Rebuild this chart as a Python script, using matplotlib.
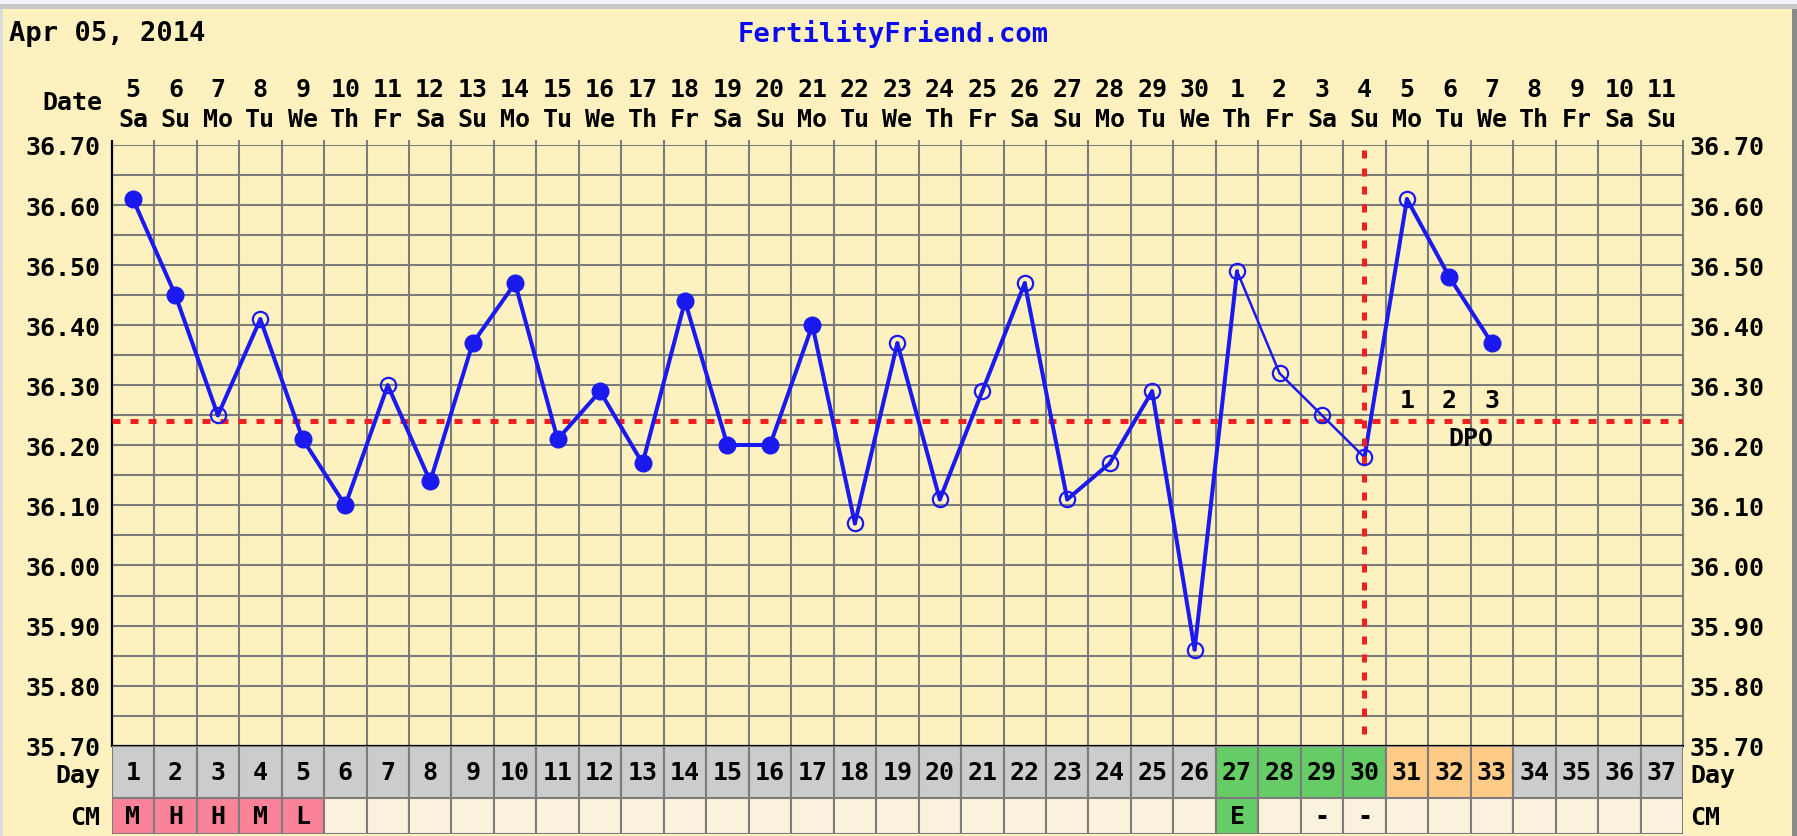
import numpy as np
import matplotlib
matplotlib.use("Agg")
import matplotlib.pyplot as plt
from matplotlib.patches import Rectangle
from matplotlib.lines import Line2D

# ---------------- data ----------------
cycle_days = list(range(1, 38))
dates = [5, 6, 7, 8, 9, 10, 11, 12, 13, 14, 15, 16, 17, 18, 19, 20, 21, 22, 23, 24, 25, 26, 27, 28, 29, 30,
         1, 2, 3, 4, 5, 6, 7, 8, 9, 10, 11]
weekdays = ['Sa', 'Su', 'Mo', 'Tu', 'We', 'Th', 'Fr', 'Sa', 'Su', 'Mo', 'Tu', 'We', 'Th', 'Fr',
            'Sa', 'Su', 'Mo', 'Tu', 'We', 'Th', 'Fr', 'Sa', 'Su', 'Mo', 'Tu', 'We', 'Th', 'Fr',
            'Sa', 'Su', 'Mo', 'Tu', 'We', 'Th', 'Fr', 'Sa', 'Su']
temp_days = list(range(1, 34))
temps = [36.61, 36.45, 36.25, 36.41, 36.21, 36.10, 36.30, 36.14, 36.37, 36.47, 36.21, 36.29,
         36.17, 36.44, 36.20, 36.20, 36.40, 36.07, 36.37, 36.11, 36.29, 36.47, 36.11, 36.17,
         36.29, 35.86, 36.49, 36.32, 36.25, 36.18, 36.61, 36.48, 36.37]
open_days = [3, 4, 7, 18, 19, 20, 21, 22, 23, 24, 25, 26, 27, 28, 29, 30, 31]
thin_segment_starts = [27, 28, 29]
coverline = 36.24
ovulation_day = 30
dpo_days = [31, 32, 33]
dpo_labels = ['1', '2', '3']
fertile_days = [27, 28, 29, 30]
cm_days = [1, 2, 3, 4, 5, 27, 29, 30]
cm_codes = ['M', 'H', 'H', 'M', 'L', 'E', '-', '-']
menses_days = [1, 2, 3, 4, 5]
y_ticks = [35.70, 35.80, 35.90, 36.00, 36.10, 36.20, 36.30, 36.40, 36.50, 36.60, 36.70]
chart_date = 'Apr 05, 2014'
site = 'FertilityFriend.com'

# ---------------- style ----------------
W, H = 1797, 837
BG = '#FDF2BF'
GRID = '#7C7C7C'
BLUE = '#1A1AF0'
RED = '#EE2020'
FONT = 'DejaVu Sans Mono'
FS = 18

def fx(px):
    return px / W

def fy(py):
    return 1 - py / H

L, R = 111.7, 1683.0
T, B = 146.0, 746.7
DAY_B, CM_B = 799.0, 835.0

fig = plt.figure(figsize=(W / 100, H / 100), dpi=100, facecolor=BG)

# frame decorations
fig.add_artist(Rectangle((0, fy(5)), 1, 5 / H, transform=fig.transFigure, color='#F3F3FE', lw=0))
fig.add_artist(Rectangle((0, fy(10)), 1, 5 / H, transform=fig.transFigure, color='#C8C8C8', lw=0))
fig.add_artist(Rectangle((0, 0), 3 / W, fy(10), transform=fig.transFigure, color='#DCDCDC', lw=0))
fig.add_artist(Rectangle((fx(1792), 0), 5 / W, fy(10), transform=fig.transFigure, color='#8A8A8A', lw=0))

# ---------------- main chart ----------------
ax = fig.add_axes([fx(L), fy(B), (R - L) / W, (B - T) / H])
ax.set_facecolor(BG)
ax.set_xlim(0.5, 37.5)
ax.set_ylim(35.70, 36.70)
px_per_unit = (B - T) / 1.0
ext = 5 / px_per_unit

bounds = np.arange(0.5, 38.0, 1.0)
ax.vlines(bounds[1:-1], 35.70, 36.70 + ext, colors=GRID, lw=1.5, zorder=1, clip_on=False)
hl = np.round(np.arange(35.75, 36.71, 0.05), 2)
ax.hlines(hl, 0.5, 37.5, colors=GRID, lw=1.5, zorder=1)
ax.vlines([37.5], 35.70, 36.70 + ext, colors=GRID, lw=1.5, zorder=1, clip_on=False)
ax.vlines([0.5], 35.70, 36.70 + ext, colors='black', lw=1.6, zorder=2, clip_on=False)
for s in ax.spines.values():
    s.set_visible(False)
ax.spines['bottom'].set_visible(True)
ax.spines['bottom'].set_color('black')
ax.spines['bottom'].set_linewidth(1.6)

ax.set_xticks([])
ax.set_yticks(y_ticks)
ax.set_yticklabels([f'{v:.2f}' for v in y_ticks], fontfamily=FONT, fontweight='bold', fontsize=FS)
ax.tick_params(axis='y', length=0, pad=8.4)
ax2 = ax.twinx()
ax2.set_ylim(ax.get_ylim())
ax2.set_yticks(y_ticks)
ax2.set_yticklabels([f'{v:.2f}' for v in y_ticks], fontfamily=FONT, fontweight='bold', fontsize=FS)
ax2.tick_params(axis='y', length=0, pad=5)
for s in ax2.spines.values():
    s.set_visible(False)

# coverline and ovulation line
ax.hlines(coverline, 0.5, 37.5, colors=RED, lw=3.6, linestyles=(0, (1.6, 2.0)), zorder=3)
ax.vlines(ovulation_day, 35.72, 36.70 + ext, colors=RED, lw=3.6, linestyles=(0, (1.6, 2.0)),
          zorder=5, clip_on=False)

# temperature line
for i in range(len(temp_days) - 1):
    lw = 1.8 if temp_days[i] in thin_segment_starts else 2.9
    ax.plot(temp_days[i:i + 2], temps[i:i + 2], color=BLUE, lw=lw, zorder=4,
            solid_capstyle='round')
filled_x = [d for d in temp_days if d not in open_days]
filled_y = [t for d, t in zip(temp_days, temps) if d not in open_days]
open_x = [d for d in temp_days if d in open_days]
open_y = [t for d, t in zip(temp_days, temps) if d in open_days]
ax.plot(filled_x, filled_y, 'o', color=BLUE, ms=12, mec=BLUE, zorder=6, ls='none')
ax.plot(open_x, open_y, 'o', mfc='none', mec=BLUE, ms=11, mew=1.6, zorder=6, ls='none')

# DPO labels
for d, lab in zip(dpo_days, dpo_labels):
    ax.text(d, 36.275, lab, ha='center', va='center', fontfamily=FONT, fontweight='bold',
            fontsize=FS, color='black', zorder=7)
ax.text(np.mean(dpo_days[1:]), 36.212, 'DPO', ha='center', va='center', fontfamily=FONT,
        fontweight='bold', fontsize=FS, color='black', zorder=7)

# header: dates and weekdays
tr = ax.get_xaxis_transform()
for d, dt, wd in zip(cycle_days, dates, weekdays):
    ax.text(d, (B - 90) / (B - T), str(dt), transform=tr, ha='center', va='center',
            fontfamily=FONT, fontweight='bold', fontsize=FS)
    ax.text(d, (B - 120) / (B - T), wd, transform=tr, ha='center', va='center',
            fontfamily=FONT, fontweight='bold', fontsize=FS)
fig.text(fx(102), fy(103), 'Date', ha='right', va='center', fontfamily=FONT,
         fontweight='bold', fontsize=FS)

fig.text(fx(9), fy(34), chart_date, ha='left', va='center', fontfamily=FONT,
         fontweight='bold', fontsize=19.5)
fig.text(fx(893), fy(34), site, ha='center', va='center', fontfamily=FONT,
         fontweight='bold', fontsize=19.5, color='#0A0AEE')

# ---------------- Day row ----------------
axd = fig.add_axes([fx(L), fy(DAY_B), (R - L) / W, (DAY_B - B) / H])
axd.set_xlim(0.5, 37.5)
axd.set_ylim(0, 1)
day_colors = []
for d in cycle_days:
    if d in fertile_days:
        day_colors.append('#66CC66')
    elif d in dpo_days:
        day_colors.append('#FFCC88')
    else:
        day_colors.append('#CCCCCC')
axd.bar(cycle_days, [1] * len(cycle_days), width=1.0, bottom=0, color=day_colors,
        edgecolor=GRID, lw=1.5)
for d in cycle_days:
    axd.text(d, 0.5, str(d), ha='center', va='center', fontfamily=FONT, fontweight='bold',
             fontsize=FS)
axd.axis('off')
fig.text(fx(100), fy(776), 'Day', ha='right', va='center', fontfamily=FONT,
         fontweight='bold', fontsize=FS)
fig.text(fx(1690), fy(776), 'Day', ha='left', va='center', fontfamily=FONT,
         fontweight='bold', fontsize=FS)

# ---------------- CM row ----------------
axc = fig.add_axes([fx(L), fy(CM_B), (R - L) / W, (CM_B - DAY_B) / H])
axc.set_xlim(0.5, 37.5)
axc.set_ylim(0, 1)
cm_colors = []
for d in cycle_days:
    if d in menses_days:
        cm_colors.append('#FA8299')
    elif d in fertile_days and d in cm_days and cm_codes[cm_days.index(d)] == 'E':
        cm_colors.append('#66CC66')
    else:
        cm_colors.append('#FBF2DE')
axc.bar(cycle_days, [1] * len(cycle_days), width=1.0, bottom=0, color=cm_colors,
        edgecolor=GRID, lw=1.5)
for d, c in zip(cm_days, cm_codes):
    axc.text(d, 0.5, c, ha='center', va='center', fontfamily=FONT, fontweight='bold',
             fontsize=FS)
axc.axis('off')
fig.text(fx(100), fy(818), 'CM', ha='right', va='center', fontfamily=FONT,
         fontweight='bold', fontsize=FS)
fig.text(fx(1690), fy(818), 'CM', ha='left', va='center', fontfamily=FONT,
         fontweight='bold', fontsize=FS)

fig.savefig('out.png', dpi=100, facecolor=BG)
